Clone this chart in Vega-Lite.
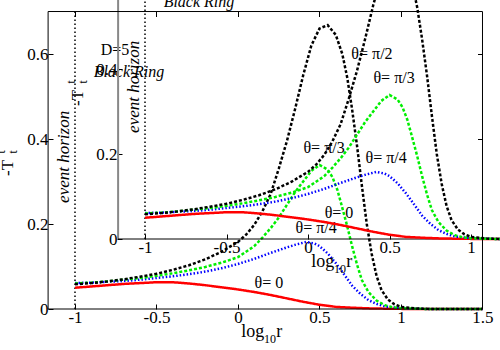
{
"$schema": "https://vega.github.io/schema/vega-lite/v6.json",
"width": 452, "height": 309,
"autosize": "none",
"padding": {"left": 48, "top": 0, "right": 0, "bottom": 41},
"background": "white",
"config": {"view": {"stroke": null}, "font": "Liberation Serif",
  "axis": {"domain": false, "grid": false, "tickSize": -5, "tickColor": "black", "tickWidth": 1, "labelFont": "Liberation Serif", "labelFontSize": 17, "labelColor": "black", "labelPadding": 5, "labelFlush": false, "labelOverlap": false, "title": null, "labelExpr": "'' + datum.value"}},
"datasets": {
"curves": [
{"s":"t0","x":-1.0,"y":0.050},{"s":"t0","x":-0.9,"y":0.053},{"s":"t0","x":-0.8,"y":0.056},{"s":"t0","x":-0.7,"y":0.059},{"s":"t0","x":-0.6,"y":0.061},{"s":"t0","x":-0.5,"y":0.063},{"s":"t0","x":-0.4,"y":0.063},{"s":"t0","x":-0.3,"y":0.060},{"s":"t0","x":-0.2,"y":0.056},{"s":"t0","x":-0.1,"y":0.051},{"s":"t0","x":0.0,"y":0.046},{"s":"t0","x":0.1,"y":0.040},{"s":"t0","x":0.2,"y":0.033},{"s":"t0","x":0.3,"y":0.025},{"s":"t0","x":0.4,"y":0.017},{"s":"t0","x":0.5,"y":0.010},{"s":"t0","x":0.6,"y":0.005},{"s":"t0","x":0.7,"y":0.003},{"s":"t0","x":0.8,"y":0.0015},{"s":"t0","x":0.9,"y":0.0008},{"s":"t0","x":1.0,"y":0.0003},{"s":"t0","x":1.2,"y":0},{"s":"t0","x":1.5,"y":0},
{"s":"t4","x":-1.0,"y":0.061},{"s":"t4","x":-0.9,"y":0.062},{"s":"t4","x":-0.8,"y":0.064},{"s":"t4","x":-0.7,"y":0.066},{"s":"t4","x":-0.6,"y":0.069},{"s":"t4","x":-0.5,"y":0.073},{"s":"t4","x":-0.4,"y":0.077},{"s":"t4","x":-0.3,"y":0.082},{"s":"t4","x":-0.2,"y":0.088},{"s":"t4","x":-0.1,"y":0.096},{"s":"t4","x":0.0,"y":0.106},{"s":"t4","x":0.1,"y":0.118},{"s":"t4","x":0.2,"y":0.132},{"s":"t4","x":0.3,"y":0.145},{"s":"t4","x":0.35,"y":0.151},{"s":"t4","x":0.42,"y":0.158},{"s":"t4","x":0.47,"y":0.154},{"s":"t4","x":0.5,"y":0.148},{"s":"t4","x":0.55,"y":0.131},{"s":"t4","x":0.6,"y":0.108},{"s":"t4","x":0.65,"y":0.082},{"s":"t4","x":0.7,"y":0.055},{"s":"t4","x":0.75,"y":0.036},{"s":"t4","x":0.8,"y":0.021},{"s":"t4","x":0.85,"y":0.012},{"s":"t4","x":0.9,"y":0.006},{"s":"t4","x":1.0,"y":0.002},{"s":"t4","x":1.1,"y":0.0005},{"s":"t4","x":1.2,"y":0},{"s":"t4","x":1.5,"y":0},
{"s":"t3","x":-1.0,"y":0.060},{"s":"t3","x":-0.9,"y":0.062},{"s":"t3","x":-0.8,"y":0.065},{"s":"t3","x":-0.7,"y":0.069},{"s":"t3","x":-0.6,"y":0.073},{"s":"t3","x":-0.5,"y":0.078},{"s":"t3","x":-0.4,"y":0.084},{"s":"t3","x":-0.3,"y":0.091},{"s":"t3","x":-0.2,"y":0.099},{"s":"t3","x":-0.1,"y":0.109},{"s":"t3","x":0.0,"y":0.122},{"s":"t3","x":0.1,"y":0.148},{"s":"t3","x":0.15,"y":0.168},{"s":"t3","x":0.2,"y":0.19},{"s":"t3","x":0.25,"y":0.215},{"s":"t3","x":0.3,"y":0.245},{"s":"t3","x":0.35,"y":0.275},{"s":"t3","x":0.4,"y":0.3},{"s":"t3","x":0.45,"y":0.325},{"s":"t3","x":0.5,"y":0.339},{"s":"t3","x":0.55,"y":0.328},{"s":"t3","x":0.58,"y":0.31},{"s":"t3","x":0.61,"y":0.28},{"s":"t3","x":0.64,"y":0.238},{"s":"t3","x":0.67,"y":0.195},{"s":"t3","x":0.7,"y":0.148},{"s":"t3","x":0.73,"y":0.105},{"s":"t3","x":0.76,"y":0.068},{"s":"t3","x":0.8,"y":0.04},{"s":"t3","x":0.85,"y":0.02},{"s":"t3","x":0.9,"y":0.009},{"s":"t3","x":0.95,"y":0.004},{"s":"t3","x":1.0,"y":0.002},{"s":"t3","x":1.1,"y":0.0005},{"s":"t3","x":1.2,"y":0},{"s":"t3","x":1.5,"y":0},
{"s":"t2","x":-1.0,"y":0.058},{"s":"t2","x":-0.9,"y":0.061},{"s":"t2","x":-0.8,"y":0.065},{"s":"t2","x":-0.7,"y":0.070},{"s":"t2","x":-0.6,"y":0.076},{"s":"t2","x":-0.5,"y":0.083},{"s":"t2","x":-0.4,"y":0.092},{"s":"t2","x":-0.3,"y":0.103},{"s":"t2","x":-0.2,"y":0.117},{"s":"t2","x":-0.1,"y":0.135},{"s":"t2","x":0.0,"y":0.158},{"s":"t2","x":0.05,"y":0.175},{"s":"t2","x":0.1,"y":0.198},{"s":"t2","x":0.15,"y":0.23},{"s":"t2","x":0.2,"y":0.27},{"s":"t2","x":0.25,"y":0.33},{"s":"t2","x":0.3,"y":0.395},{"s":"t2","x":0.35,"y":0.47},{"s":"t2","x":0.4,"y":0.55},{"s":"t2","x":0.45,"y":0.62},{"s":"t2","x":0.5,"y":0.66},{"s":"t2","x":0.55,"y":0.668},{"s":"t2","x":0.6,"y":0.645},{"s":"t2","x":0.64,"y":0.6},{"s":"t2","x":0.67,"y":0.545},{"s":"t2","x":0.7,"y":0.47},{"s":"t2","x":0.73,"y":0.385},{"s":"t2","x":0.76,"y":0.29},{"s":"t2","x":0.79,"y":0.2},{"s":"t2","x":0.82,"y":0.13},{"s":"t2","x":0.85,"y":0.078},{"s":"t2","x":0.88,"y":0.045},{"s":"t2","x":0.92,"y":0.022},{"s":"t2","x":0.96,"y":0.011},{"s":"t2","x":1.0,"y":0.005},{"s":"t2","x":1.1,"y":0.001},{"s":"t2","x":1.2,"y":0},{"s":"t2","x":1.5,"y":0}
],
"frame": [
{"part":"left","x":-1.165,"y":0,"x2":-1.165,"y2":0.7},
{"part":"right","x":1.5,"y":0,"x2":1.5,"y2":0.7},
{"part":"top","x":-1.165,"y":0.7,"x2":1.5,"y2":0.7},
{"part":"bottom","x":-1.165,"y":0,"x2":1.5,"y2":0}
],
"horizon": [{"x":-1,"y":0,"x2":-1,"y2":0.7}],
"theta": [
{"t":"θ= π/2","x":0.822,"y":0.6},
{"t":"θ= π/3","x":0.528,"y":0.379},
{"t":"θ= π/4","x":0.479,"y":0.191},
{"t":"θ= 0","x":0.19,"y":0.061},
{"t":"D=5","x":-0.755,"y":0.609}
],
"ital": [{"t":"Black Ring","x":-0.669,"y":0.558}],
"eh": [{"t":"event horizon","x":-1.067,"y":0.358}],
"ylbig": [{"t":"-T","x":-1.411,"y":0.332}],
"ylsmall": [{"t":"t","x":-1.454,"y":0.37},{"t":"t","x":-1.38,"y":0.37}],
"xlbig": [{"t":"log","x":0.02,"y":-0.066},{"t":"r","x":0.234,"y":-0.066}],
"xlsmall": [{"t":"10","x":0.16,"y":-0.08}]
},
"layer": [
{
 "encoding": {
  "x": {"field": "x", "type": "quantitative", "scale": {"domain": [-1.1656, 1.6074], "nice": false, "zero": false}, "axis": {"orient": "bottom", "values": [-1, -0.5, 0, 0.5, 1, 1.5], "title": null}},
  "y": {"field": "y", "type": "quantitative", "scale": {"domain": [0, 0.7271], "nice": false, "zero": false}, "axis": {"orient": "left", "values": [0, 0.2, 0.4, 0.6], "title": null}}
 },
 "layer": [
  {"data": {"name": "horizon"}, "mark": {"type": "rule", "color": "black", "strokeWidth": 1.5, "strokeDash": [1.5, 2.5]}, "encoding": {"x2": {"field": "x2"}, "y2": {"field": "y2"}}},
  {"data": {"name": "curves"}, "mark": {"type": "line", "strokeWidth": 2.5},
   "encoding": {
    "color": {"field": "s", "type": "nominal", "scale": {"domain": ["t0", "t4", "t3", "t2"], "range": ["#ff0000", "#0000ff", "#00ee00", "#000000"]}, "legend": null},
    "strokeDash": {"field": "s", "type": "nominal", "scale": {"domain": ["t0", "t4", "t3", "t2"], "range": [[1, 0], [1.5, 2], [3, 2], [3, 2]]}, "legend": null}
   }},
  {"data": {"name": "theta"}, "mark": {"type": "text", "font": "Liberation Serif", "fontSize": 16, "align": "center", "baseline": "middle", "color": "black"}, "encoding": {"text": {"field": "t"}}},
  {"data": {"name": "ital"}, "mark": {"type": "text", "font": "Liberation Serif", "fontStyle": "italic", "fontSize": 16, "align": "center", "baseline": "middle", "color": "black"}, "encoding": {"text": {"field": "t"}}},
  {"data": {"name": "eh"}, "mark": {"type": "text", "font": "Liberation Serif", "fontStyle": "italic", "fontSize": 17, "angle": 270, "align": "center", "baseline": "middle", "color": "black"}, "encoding": {"text": {"field": "t"}}},
  {"data": {"name": "ylbig"}, "mark": {"type": "text", "font": "Liberation Serif", "fontSize": 17, "angle": 270, "align": "center", "baseline": "middle", "color": "black"}, "encoding": {"text": {"field": "t"}}},
  {"data": {"name": "ylsmall"}, "mark": {"type": "text", "font": "Liberation Serif", "fontSize": 12, "angle": 270, "align": "center", "baseline": "middle", "color": "black"}, "encoding": {"text": {"field": "t"}}},
  {"data": {"name": "xlbig"}, "mark": {"type": "text", "font": "Liberation Serif", "fontSize": 18, "align": "left", "baseline": "alphabetic", "color": "black"}, "encoding": {"text": {"field": "t"}}},
  {"data": {"name": "xlsmall"}, "mark": {"type": "text", "font": "Liberation Serif", "fontSize": 12, "align": "left", "baseline": "alphabetic", "color": "black"}, "encoding": {"text": {"field": "t"}}}
 ]
},
{
 "encoding": {
  "x": {"field": "x", "type": "quantitative", "scale": {"domain": [-1.5951, 1.1779], "nice": false, "zero": false}, "axis": {"orient": "bottom", "offset": -70, "values": [-1, -0.5, 0, 0.5, 1], "title": null}},
  "y": {"field": "y", "type": "quantitative", "scale": {"domain": [-0.1647, 0.5624], "nice": false, "zero": false}, "axis": {"orient": "left", "offset": -69, "values": [0, 0.2, 0.4], "title": null}}
 },
 "layer": [
  {"data": {"name": "frame"}, "transform": [{"filter": "datum.part == 'left'"}], "mark": {"type": "rule", "color": "#888888", "strokeWidth": 2}, "encoding": {"x2": {"field": "x2"}, "y2": {"field": "y2"}}},
  {"data": {"name": "frame"}, "transform": [{"filter": "datum.part != 'left'"}], "mark": {"type": "rule", "color": "black", "strokeWidth": 1}, "encoding": {"x2": {"field": "x2"}, "y2": {"field": "y2"}}},
  {"data": {"name": "horizon"}, "mark": {"type": "rule", "color": "black", "strokeWidth": 1.5, "strokeDash": [1.5, 2.5]}, "encoding": {"x2": {"field": "x2"}, "y2": {"field": "y2"}}},
  {"data": {"name": "curves"}, "mark": {"type": "line", "strokeWidth": 2.5},
   "encoding": {
    "color": {"field": "s", "type": "nominal", "scale": {"domain": ["t0", "t4", "t3", "t2"], "range": ["#ff0000", "#0000ff", "#00ee00", "#000000"]}, "legend": null},
    "strokeDash": {"field": "s", "type": "nominal", "scale": {"domain": ["t0", "t4", "t3", "t2"], "range": [[1, 0], [1.5, 2], [3, 2], [3, 2]]}, "legend": null}
   }},
  {"data": {"name": "theta"}, "mark": {"type": "text", "font": "Liberation Serif", "fontSize": 16, "align": "center", "baseline": "middle", "color": "black"}, "encoding": {"text": {"field": "t"}}},
  {"data": {"name": "ital"}, "mark": {"type": "text", "font": "Liberation Serif", "fontStyle": "italic", "fontSize": 16, "align": "center", "baseline": "middle", "color": "black"}, "encoding": {"text": {"field": "t"}}},
  {"data": {"name": "eh"}, "mark": {"type": "text", "font": "Liberation Serif", "fontStyle": "italic", "fontSize": 17, "angle": 270, "align": "center", "baseline": "middle", "color": "black"}, "encoding": {"text": {"field": "t"}}},
  {"data": {"name": "ylbig"}, "mark": {"type": "text", "font": "Liberation Serif", "fontSize": 17, "angle": 270, "align": "center", "baseline": "middle", "color": "black"}, "encoding": {"text": {"field": "t"}}},
  {"data": {"name": "ylsmall"}, "mark": {"type": "text", "font": "Liberation Serif", "fontSize": 12, "angle": 270, "align": "center", "baseline": "middle", "color": "black"}, "encoding": {"text": {"field": "t"}}},
  {"data": {"name": "xlbig"}, "mark": {"type": "text", "font": "Liberation Serif", "fontSize": 18, "align": "left", "baseline": "alphabetic", "color": "black"}, "encoding": {"text": {"field": "t"}}},
  {"data": {"name": "xlsmall"}, "mark": {"type": "text", "font": "Liberation Serif", "fontSize": 12, "align": "left", "baseline": "alphabetic", "color": "black"}, "encoding": {"text": {"field": "t"}}}
 ]
},
{
 "data": {"name": "frame"},
 "mark": {"type": "rule", "color": "black", "strokeWidth": 1},
 "encoding": {
  "x": {"field": "x", "type": "quantitative", "scale": {"domain": [-1.1656, 1.6074], "nice": false, "zero": false}, "axis": {"orient": "top", "offset": -11.5, "values": [-1, -0.5, 0, 0.5, 1], "labels": false, "title": null}},
  "y": {"field": "y", "type": "quantitative", "scale": {"domain": [0, 0.7271], "nice": false, "zero": false}, "axis": {"orient": "right", "offset": -17.5, "values": [0.2, 0.4, 0.6], "labels": false, "title": null}},
  "x2": {"field": "x2"}, "y2": {"field": "y2"}
 }
}
],
"resolve": {"scale": {"x": "independent", "y": "independent"}, "axis": {"x": "independent", "y": "independent"}}
}
